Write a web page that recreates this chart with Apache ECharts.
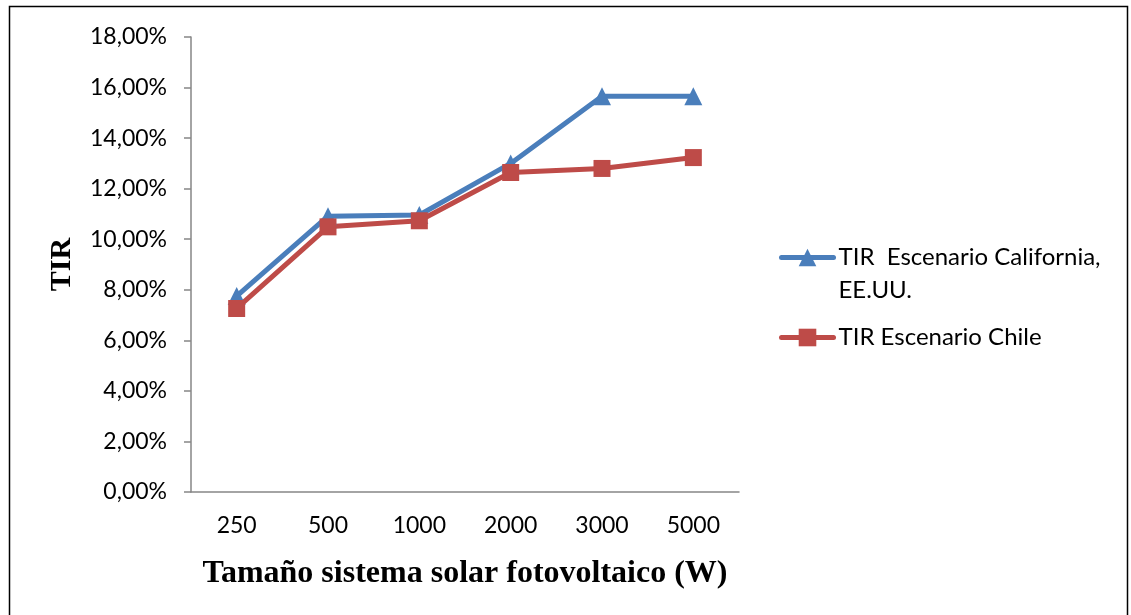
<!DOCTYPE html>
<html>
<head>
<meta charset="utf-8">
<script src="https://cdn.jsdelivr.net/npm/echarts@6/dist/echarts.min.js"></script>
<style>html,body{margin:0;padding:0;background:#fff}#c{width:1131px;height:615px}</style>
</head>
<body>
<div id="c"></div>
<script>
const categories = ['250', '500', '1000', '2000', '3000', '5000'];
const california = [7.75, 10.91, 10.96, 13.0, 15.66, 15.66];
const chile = [7.26, 10.49, 10.73, 12.64, 12.80, 13.23];
const seriesNames = ['TIR  Escenario California, EE.UU.', 'TIR Escenario Chile'];
const yTitle = 'TIR';
const xTitle = 'Tamaño sistema solar fotovoltaico (W)';

const chart = echarts.init(document.getElementById('c'));
chart.setOption({
  animation: false,
  backgroundColor: '#fff',
  graphic: [{
    type: 'rect', shape: { x: 9.5, y: 6.5, width: 1118, height: 640 },
    style: { fill: 'none', stroke: '#000', lineWidth: 1.5 }, silent: true
  }],
  grid: { left: 191, top: 37, right: 392, bottom: 123 },
  legend: {
    orient: 'vertical', left: 774, top: 203, itemWidth: 52, itemHeight: 22, itemGap: 14,
    data: seriesNames,
    formatter: n => n === seriesNames[0] ? '{e| }\nTIR  Escenario California,\nEE.UU.' : n,
    lineStyle: { width: 5, cap: 'round' },
    textStyle: { fontFamily: 'Lato', fontSize: 24, color: '#000', lineHeight: 33,
      rich: { e: { fontSize: 24, lineHeight: 33 } } }
  },
  xAxis: {
    type: 'category', data: categories, boundaryGap: true,
    axisLine: { lineStyle: { color: '#868686', width: 1.5 } },
    axisTick: { show: false },
    axisLabel: { fontFamily: 'Lato', fontSize: 23, color: '#000', margin: 22 },
    name: xTitle, nameLocation: 'middle', nameGap: 66,
    nameTextStyle: { fontFamily: 'Liberation Serif', fontWeight: 'bold', fontSize: 32, color: '#000' }
  },
  yAxis: {
    type: 'value', min: 0, max: 18, interval: 2,
    axisLine: { show: true, lineStyle: { color: '#868686', width: 1.5 } },
    axisTick: { show: true, length: 7, lineStyle: { color: '#868686', width: 1.5 } },
    splitLine: { show: false },
    axisLabel: { fontFamily: 'Lato', fontSize: 23, color: '#000', margin: 24,
      formatter: v => v.toFixed(2).replace('.', ',') + '%' },
    name: yTitle, nameLocation: 'middle', nameGap: 114, nameRotate: 90,
    nameTextStyle: { fontFamily: 'Liberation Serif', fontWeight: 'bold', fontSize: 30, color: '#000' }
  },
  series: [
    { name: seriesNames[0], type: 'line', data: california, symbol: 'triangle', symbolSize: 18,
      color: '#4A7EBB', lineStyle: { width: 5, color: '#4A7EBB' }, itemStyle: { color: '#4A7EBB' } },
    { name: seriesNames[1], type: 'line', data: chile, symbol: 'rect', symbolSize: 17,
      color: '#BE4B48', lineStyle: { width: 5, color: '#BE4B48' }, itemStyle: { color: '#BE4B48' } }
  ]
});
</script>
</body>
</html>
